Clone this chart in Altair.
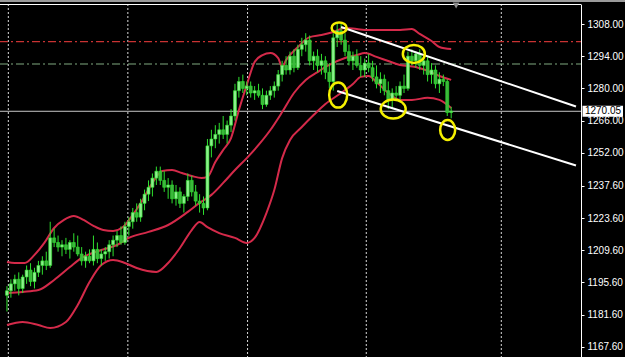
import altair as alt
import pandas as pd

# ---------------- data ----------------
opens = [1190, 1192, 1195, 1197, 1193, 1198, 1201, 1196, 1200, 1203,
         1205, 1203, 1215, 1213, 1211, 1212, 1210, 1213, 1211, 1208,
         1205, 1207, 1205, 1210, 1206, 1208, 1209, 1212, 1214, 1216,
         1213, 1220, 1222, 1226, 1224, 1230, 1234, 1237, 1241, 1244,
         1240, 1237, 1238, 1232, 1235, 1230, 1233, 1240, 1235, 1231,
         1230, 1228, 1255, 1258, 1260, 1262, 1260, 1264, 1268, 1279,
         1283, 1280, 1281, 1278, 1279, 1277, 1273, 1277, 1279, 1281,
         1286, 1290, 1288, 1294, 1289, 1297, 1299, 1301, 1292, 1294,
         1290, 1292, 1287, 1283, 1302, 1305, 1301, 1296, 1292, 1294,
         1290, 1288, 1291, 1289, 1285, 1282, 1284, 1279, 1275, 1278,
         1277, 1281, 1280, 1294, 1292, 1295, 1290, 1292, 1286, 1288,
         1282, 1284, 1283, 1269.5]
highs = [1194, 1197, 1199, 1200, 1199, 1203, 1204, 1202, 1205, 1207,
         1209, 1222, 1219, 1216, 1214, 1215, 1214, 1217, 1216, 1211,
         1209, 1210, 1216, 1213, 1210, 1211, 1214, 1216, 1218, 1220,
         1222, 1224, 1228, 1230, 1232, 1236, 1240, 1243, 1246, 1246,
         1244, 1241, 1240, 1238, 1237, 1234, 1243, 1242, 1238, 1234,
         1233, 1258, 1262, 1264, 1265, 1268, 1266, 1271, 1282, 1285,
         1286, 1283, 1283, 1281, 1282, 1280, 1279, 1281, 1283, 1288,
         1292, 1294, 1296, 1297, 1299, 1302, 1304, 1303, 1296, 1297,
         1295, 1294, 1291, 1304, 1308.5, 1308, 1304, 1299, 1296, 1297,
         1294, 1293, 1295, 1292, 1290, 1287, 1286, 1283, 1280, 1281,
         1283, 1286, 1296, 1297, 1296, 1297, 1294, 1294, 1291, 1290,
         1287, 1286, 1284, 1272]
lows = [1183, 1189, 1192, 1190, 1191, 1195, 1194, 1193, 1198, 1199,
        1201, 1202, 1211, 1209, 1207, 1208, 1206, 1209, 1207, 1203,
        1202, 1204, 1203, 1204, 1203, 1205, 1206, 1207, 1211, 1212,
        1212, 1216, 1219, 1222, 1222, 1227, 1231, 1233, 1238, 1238,
        1235, 1232, 1230, 1229, 1228, 1226, 1231, 1233, 1229, 1226,
        1225, 1227, 1250, 1254, 1256, 1258, 1256, 1261, 1266, 1276,
        1278, 1277, 1276, 1275, 1276, 1271, 1272, 1275, 1276, 1279,
        1283, 1286, 1286, 1287, 1288, 1294, 1296, 1290, 1288, 1287,
        1286, 1284, 1280, 1279, 1298, 1299, 1294, 1290, 1288, 1289,
        1285, 1285, 1287, 1283, 1280, 1278, 1277, 1271, 1271, 1275,
        1275, 1278, 1279, 1290, 1289, 1288, 1286, 1283, 1282, 1280,
        1278, 1281, 1268, 1267]
closes = [1192, 1195, 1197, 1193, 1198, 1201, 1196, 1200, 1203, 1205,
          1203, 1215, 1213, 1211, 1212, 1210, 1213, 1211, 1208, 1205,
          1207, 1205, 1210, 1206, 1208, 1209, 1212, 1214, 1216, 1213,
          1220, 1222, 1226, 1224, 1230, 1234, 1237, 1241, 1244, 1240,
          1237, 1238, 1232, 1235, 1230, 1233, 1240, 1235, 1231, 1230,
          1228, 1255, 1258, 1260, 1262, 1260, 1264, 1268, 1279, 1283,
          1280, 1281, 1278, 1279, 1277, 1273, 1277, 1279, 1281, 1286,
          1290, 1288, 1294, 1289, 1297, 1299, 1301, 1292, 1294, 1290,
          1292, 1287, 1283, 1302, 1305, 1301, 1296, 1292, 1294, 1290,
          1288, 1291, 1289, 1285, 1282, 1284, 1279, 1275, 1278, 1277,
          1281, 1280, 1294, 1292, 1295, 1290, 1292, 1286, 1288, 1282,
          1284, 1283, 1269.5, 1270.05]

# Bollinger bands (bar index, price)
up_idx = [0, 2, 4.5, 7, 9.5, 12, 14.5, 17, 19.5, 22, 24.5, 27, 29.5, 32, 34.5, 37,
          39.5, 42, 44.5, 47, 49.5, 51, 53, 55, 57, 59, 61, 63, 65, 67, 69, 70,
          71, 74, 77, 80, 83, 86, 89, 92, 97, 100, 103, 105, 108, 110, 113]
up_val = [1204.5, 1204.1, 1204.1, 1207.6, 1212.8, 1219.3, 1222.8, 1224.5, 1222.8,
          1220.2, 1218.4, 1218.0, 1219.7, 1225.0, 1231.5, 1238.9, 1244.1, 1244.5,
          1243.2, 1241.9, 1241.0, 1241.5, 1248.0, 1253.2, 1258.4, 1270.6, 1281.5,
          1291.5, 1294.5, 1295.4, 1293.2, 1289.3, 1292.3, 1298.0, 1302.3, 1303.2,
          1304.5, 1306.3, 1305.8, 1305.4, 1305.4, 1305.4, 1305.8, 1303.7, 1300.6,
          1298.0, 1297.1]
mid_idx = [0, 4, 8, 12, 16, 19, 24, 28, 31, 36, 41, 46, 49, 52, 55, 58, 61, 64,
           67, 70, 73, 76, 79, 82, 86, 89, 91, 94, 97, 100, 104, 107, 110, 113]
mid_val = [1191.0, 1191.5, 1192.3, 1196.7, 1202.3, 1206.3, 1209.7, 1211.9, 1215.0,
           1217.6, 1220.6, 1226.3, 1230.2, 1233.7, 1238.9, 1244.5, 1249.7, 1255.4,
           1261.9, 1269.7, 1278.0, 1283.7, 1287.1, 1290.2, 1293.2, 1294.5, 1295.4,
           1293.7, 1291.9, 1290.2, 1289.3, 1287.6, 1285.4, 1283.7]
low_idx = [0, 4, 8, 11, 15, 18, 21, 24, 27, 30, 33, 38, 41, 44, 47, 49, 51, 54,
           58, 61, 63, 66, 68, 70, 72, 75, 78, 81, 85, 88, 90, 92, 94, 97, 100,
           103, 107, 110, 113]
low_val = [1177.1, 1178.4, 1177.1, 1175.8, 1178.4, 1185.8, 1195.8, 1203.2, 1205.4,
           1204.1, 1201.9, 1200.2, 1204.1, 1210.6, 1218.4, 1221.9, 1219.7, 1217.1,
           1215.0, 1212.8, 1215.0, 1225.8, 1235.8, 1249.7, 1257.6, 1263.2, 1268.4,
           1273.2, 1278.0, 1281.9, 1285.0, 1285.4, 1282.8, 1278.0, 1275.0, 1275.0,
           1275.9, 1275.0, 1271.5]

y_ticks = [1308.0, 1294.0, 1280.0, 1266.0, 1252.0, 1237.6, 1223.6, 1209.6,
           1195.6, 1181.6, 1167.6]
last_price = 1270.05
red_level = 1300.3
green_level = 1290.6
time_grid = [0.35, 30.75, 61.2, 91.4, 125.75]

trend_x1 = [85, 84]
trend_y1 = [1306.7, 1278.9]
trend_x2 = [144.75, 144.75]
trend_y2 = [1272.1, 1246.5]

mark_x = [84.5, 103.5, 84.25, 98.25, 112.1]
mark_y = [1306.3, 1295.0, 1277.1, 1271.0, 1261.9]
mark_w = [15, 22, 18, 25, 15]
mark_h = [11, 18, 25, 19, 20]

# ---------------- chart ----------------
W, H = 581, 353
XS = alt.Scale(domain=[-0.5, 144.75], nice=False, zero=False)
YS = alt.Scale(domain=[1163.2, 1316.7], nice=False, zero=False)
FONT = "Liberation Sans"

yaxis = alt.Axis(orient="right", values=y_ticks, format=".2f", labelColor="white",
                 labelFont=FONT, labelFontSize=10, tickColor="white", tickSize=3,
                 domainColor="white", domainWidth=1, grid=False, title=None,
                 labelPadding=3, labelFlush=False, labelOverlap=False)


def X(f):
    return alt.X(f, type="quantitative", scale=XS, axis=None)


def Y(f):
    return alt.Y(f, type="quantitative", scale=YS, axis=yaxis)


candles = pd.DataFrame({"i": list(range(len(closes))), "o": opens, "h": highs,
                        "l": lows, "c": closes})
candles["dir"] = ["up" if c >= o else "down" for o, c in zip(opens, closes)]

grid = alt.Chart(pd.DataFrame({"g": time_grid})).mark_rule(
    color="#d8d8d8", strokeDash=[2, 2], strokeWidth=1
).encode(x=X("g"), y=alt.value(0), y2=alt.value(H))

red_line = alt.Chart(pd.DataFrame({"v": [red_level]})).mark_rule(
    strokeDash=[8, 3, 2, 3], strokeWidth=1.3, color="#c83232").encode(
    y=Y("v"), x=alt.value(0), x2=alt.value(W))
green_line = alt.Chart(pd.DataFrame({"v": [green_level]})).mark_rule(
    strokeDash=[8, 3, 2, 3], strokeWidth=1.2, color="#80aa80").encode(
    y=Y("v"), x=alt.value(0), x2=alt.value(W))

price_line = alt.Chart(pd.DataFrame({"v": [last_price]})).mark_rule(
    color="#c8c8c8", strokeWidth=1).encode(y=Y("v"), x=alt.value(0), x2=alt.value(W))

band_df = pd.concat([
    pd.DataFrame({"i": up_idx, "v": up_val, "b": "up"}),
    pd.DataFrame({"i": mid_idx, "v": mid_val, "b": "mid"}),
    pd.DataFrame({"i": low_idx, "v": low_val, "b": "low"}),
])
bands = alt.Chart(band_df).mark_line(color="#d42a4a", strokeWidth=2, interpolate="monotone").encode(
    x=X("i"), y=Y("v"), detail="b:N")

wicks = alt.Chart(candles).mark_rule(color="#2ee02e", strokeWidth=1).encode(
    x=X("i"), y=Y("l"), y2="h")
bodies = alt.Chart(candles).mark_bar(width=3, stroke="#2ee02e", strokeWidth=0.6).encode(
    x=X("i"), y=Y("o"), y2="c",
    fill=alt.Fill("dir:N", scale=alt.Scale(domain=["up", "down"], range=["#8cf08c", "#3cb83c"]),
                  legend=None))

trend_df = pd.DataFrame({"x1": trend_x1, "y1": trend_y1, "x2": trend_x2, "y2": trend_y2})
trends = alt.Chart(trend_df).mark_rule(color="white", strokeWidth=2).encode(
    x=X("x1"), y=Y("y1"), x2="x2", y2="y2")


def ellipse_path(w, h):
    if w >= h:
        rx, ry = 1.0, h / w
    else:
        rx, ry = w / h, 1.0
    return f"M {-rx:.3f} 0 A {rx:.3f} {ry:.3f} 0 1 1 {rx:.3f} 0 A {rx:.3f} {ry:.3f} 0 1 1 {-rx:.3f} 0 Z"


keys = [f"e{k}" for k in range(len(mark_x))]
paths = [ellipse_path(w, h) for w, h in zip(mark_w, mark_h)]
sizes = [max(w, h) ** 2 for w, h in zip(mark_w, mark_h)]
ell_df = pd.DataFrame({"x": mark_x, "y": mark_y, "k": keys, "s": sizes})
ellipses = alt.Chart(ell_df).mark_point(filled=False, color="#f5f000", strokeWidth=2.5, opacity=1).encode(
    x=X("x"), y=Y("y"),
    shape=alt.Shape("k:N", scale=alt.Scale(domain=keys, range=paths), legend=None),
    size=alt.Size("s:Q", scale=None))

top_gray = alt.Chart(pd.DataFrame({"a": [0]})).mark_rule(color="#9a9a9a", strokeWidth=2).encode(
    x=alt.value(0), x2=alt.value(625), y=alt.value(-3))
top_white = alt.Chart(pd.DataFrame({"a": [0]})).mark_rule(color="white", strokeWidth=1).encode(
    x=alt.value(0), x2=alt.value(W), y=alt.value(0.5))
shift_mark = alt.Chart(pd.DataFrame({"x": [114.25]})).mark_point(
    shape="triangle-down", filled=True, color="#8c8c8c", size=45, opacity=1).encode(
    x=X("x"), y=alt.value(1.5))

label_df = pd.DataFrame({"v": [last_price], "t": [f"{last_price:.2f}"],
                         "v1": [last_price + 2.4], "v2": [last_price - 2.4]})
label_box = alt.Chart(label_df).mark_rect(color="white").encode(
    x=alt.value(W + 1.5), x2=alt.value(W + 42), y=Y("v1"), y2="v2")
label_text = alt.Chart(label_df).mark_text(color="black", font=FONT, fontSize=10,
                                           align="center", baseline="middle").encode(
    x=alt.value(W + 22), y=Y("v"), text="t:N")

chart = alt.layer(
    grid, red_line, green_line, price_line, bands, wicks, bodies, trends, ellipses,
    top_gray, top_white, shift_mark, label_box, label_text
).properties(
    width=W, height=H,
    padding={"left": 0, "top": 4, "right": 44, "bottom": 0},
    autosize=alt.AutoSizeParams(type="none"),
    background="black",
).configure_view(stroke=None)

chart.save("out.html", embed_options={"renderer": "svg", "actions": False})
